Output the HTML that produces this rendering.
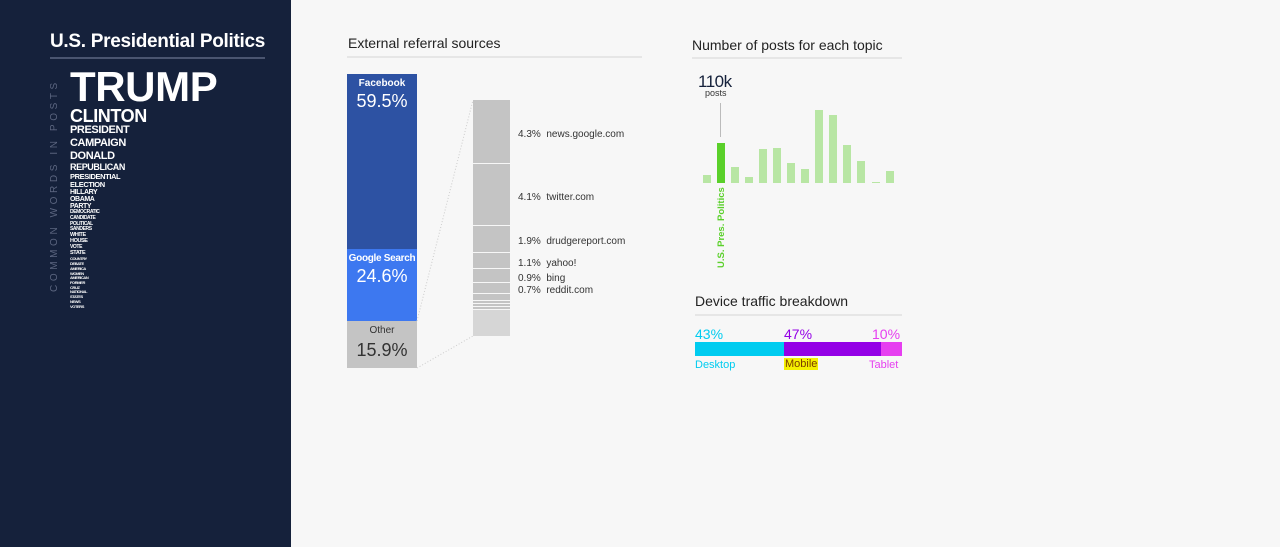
<!DOCTYPE html>
<html><head><meta charset="utf-8"><style>
*{margin:0;padding:0;box-sizing:border-box}
body{width:1280px;height:547px;background:#f7f7f7;font-family:"Liberation Sans",sans-serif;position:relative;overflow:hidden}
.side{position:absolute;left:0;top:0;width:291px;height:547px;background:#15213b}
.a{position:absolute;white-space:nowrap}
.w{position:absolute;left:70px;color:#fff;font-weight:bold;line-height:1;letter-spacing:-0.4px}
.h{color:#222;font-size:14px}
.t{font-size:10px;color:#333}
</style></head><body>
<div class="side">
<div class="a" style="left:50px;top:31px;color:#fff;font-size:19px;font-weight:bold;letter-spacing:-0.3px">U.S. Presidential Politics</div>
<div class="a" style="left:50px;top:57px;width:215px;height:2px;background:#4a5570"></div>
<div class="a" style="left:49px;top:292px;transform:rotate(-90deg);transform-origin:0 0;color:#5c6680;font-size:10px;letter-spacing:3.6px">COMMON WORDS IN POSTS</div>
<div class="w" style="top:66px;font-size:42px">TRUMP</div>
<div class="w" style="top:107px;font-size:18px">CLINTON</div>
<div class="w" style="top:125px;font-size:11px">PRESIDENT</div>
<div class="w" style="top:138px;font-size:11px">CAMPAIGN</div>
<div class="w" style="top:151px;font-size:11px">DONALD</div>
<div class="w" style="top:163px;font-size:9px">REPUBLICAN</div>
<div class="w" style="top:173px;font-size:7.5px">PRESIDENTIAL</div>
<div class="w" style="top:181px;font-size:7.5px">ELECTION</div>
<div class="w" style="top:189px;font-size:7px">HILLARY</div>
<div class="w" style="top:196px;font-size:7px">OBAMA</div>
<div class="w" style="top:203px;font-size:7px">PARTY</div>
<div class="w" style="top:210px;font-size:5px">DEMOCRATIC</div>
<div class="w" style="top:216px;font-size:5px">CANDIDATE</div>
<div class="w" style="top:222px;font-size:5px">POLITICAL</div>
<div class="w" style="top:227px;font-size:5px">SANDERS</div>
<div class="w" style="top:233px;font-size:5.5px">WHITE</div>
<div class="w" style="top:239px;font-size:5.5px">HOUSE</div>
<div class="w" style="top:245px;font-size:5px">VOTE</div>
<div class="w" style="top:251px;font-size:5.5px">STATE</div>
<div class="w" style="top:257px;font-size:4px">COUNTRY</div>
<div class="w" style="top:262px;font-size:4px">DEBATE</div>
<div class="w" style="top:267px;font-size:4px">AMERICA</div>
<div class="w" style="top:272px;font-size:4px">WOMEN</div>
<div class="w" style="top:276px;font-size:4px">AMERICAN</div>
<div class="w" style="top:281px;font-size:4px">FORMER</div>
<div class="w" style="top:286px;font-size:4px">CRUZ</div>
<div class="w" style="top:290px;font-size:4px">NATIONAL</div>
<div class="w" style="top:295px;font-size:4px">STATES</div>
<div class="w" style="top:300px;font-size:4px">NEWS</div>
<div class="w" style="top:305px;font-size:4px">VOTERS</div>
</div>

<div class="a h" style="left:348px;top:35px">External referral sources</div>
<div class="a" style="left:347px;top:56px;width:295px;height:2px;background:#e6e6e6"></div>
<div class="a" style="left:347px;top:74px;width:70px;height:175px;background:#2d52a3"></div>
<div class="a" style="left:347px;top:249px;width:70px;height:72px;background:#3d78f0"></div>
<div class="a" style="left:347px;top:321px;width:70px;height:47px;background:#c4c4c4"></div>
<div class="a" style="left:347px;top:78px;width:70px;text-align:center;color:#fff;font-size:10px;font-weight:bold">Facebook</div>
<div class="a" style="left:347px;top:91px;width:70px;text-align:center;color:#fff;font-size:18px">59.5%</div>
<div class="a" style="left:347px;top:253px;width:70px;text-align:center;color:#fff;font-size:10px;font-weight:bold;letter-spacing:-0.3px">Google Search</div>
<div class="a" style="left:347px;top:266px;width:70px;text-align:center;color:#fff;font-size:18px">24.6%</div>
<div class="a" style="left:347px;top:325px;width:70px;text-align:center;color:#333;font-size:10px">Other</div>
<div class="a" style="left:347px;top:340px;width:70px;text-align:center;color:#333;font-size:18px">15.9%</div>
<svg class="a" style="left:0;top:0" width="1280" height="547">
<line x1="417" y1="321" x2="473" y2="100" stroke="#ccc" stroke-dasharray="1,2"/>
<line x1="417" y1="368" x2="473" y2="336" stroke="#ccc" stroke-dasharray="1,2"/>
<g fill="#c4c4c4">
<rect x="473" y="100" width="37" height="63"/><rect x="473" y="164" width="37" height="61"/>
<rect x="473" y="226" width="37" height="26"/><rect x="473" y="253" width="37" height="15"/>
<rect x="473" y="269" width="37" height="13"/><rect x="473" y="283" width="37" height="10"/>
<rect x="473" y="294" width="37" height="6"/><rect x="473" y="301" width="37" height="2"/>
<rect x="473" y="304" width="37" height="2"/><rect x="473" y="307" width="37" height="2"/>
</g>
<rect x="473" y="310" width="37" height="26" fill="#d6d6d6"/>
<g fill="#b8e6a4">
<rect x="703" y="175" width="8" height="8"/><rect x="731" y="167" width="8" height="16"/>
<rect x="745" y="177" width="8" height="6"/><rect x="759" y="149" width="8" height="34"/>
<rect x="773" y="148" width="8" height="35"/><rect x="787" y="163" width="8" height="20"/>
<rect x="801" y="169" width="8" height="14"/><rect x="815" y="110" width="8" height="73"/>
<rect x="829" y="115" width="8" height="68"/><rect x="843" y="145" width="8" height="38"/>
<rect x="857" y="161" width="8" height="22"/><rect x="872" y="182" width="8" height="1"/>
<rect x="886" y="171" width="8" height="12"/>
</g>
<rect x="717" y="143" width="8" height="40" fill="#5ad02a"/>
<line x1="720.5" y1="103" x2="720.5" y2="137" stroke="#bbb" stroke-width="1"/>
<rect x="695" y="342" width="89" height="14" fill="#00ccf0"/>
<rect x="784" y="342" width="97" height="14" fill="#9400e6"/>
<rect x="881" y="342" width="21" height="14" fill="#e63ff0"/>
</svg>
<div class="a t" style="left:518px;top:129px">4.3%&nbsp;&nbsp;news.google.com</div>
<div class="a t" style="left:518px;top:192px">4.1%&nbsp;&nbsp;twitter.com</div>
<div class="a t" style="left:518px;top:236px">1.9%&nbsp;&nbsp;drudgereport.com</div>
<div class="a t" style="left:518px;top:258px">1.1%&nbsp;&nbsp;yahoo!</div>
<div class="a t" style="left:518px;top:273px">0.9%&nbsp;&nbsp;bing</div>
<div class="a t" style="left:518px;top:285px">0.7%&nbsp;&nbsp;reddit.com</div>

<div class="a h" style="left:692px;top:37px">Number of posts for each topic</div>
<div class="a" style="left:692px;top:57px;width:210px;height:2px;background:#e6e6e6"></div>
<div class="a" style="left:698px;top:72px;font-size:17px;color:#15213b;letter-spacing:-0.5px">110k</div>
<div class="a" style="left:705px;top:88px;font-size:9px;color:#333">posts</div>
<div class="a" style="left:716px;top:268px;transform:rotate(-90deg);transform-origin:0 0;color:#5ad02a;font-size:9.5px;font-weight:bold">U.S. Pres. Politics</div>

<div class="a h" style="left:695px;top:293px">Device traffic breakdown</div>
<div class="a" style="left:695px;top:314px;width:207px;height:2px;background:#e6e6e6"></div>
<div class="a" style="left:695px;top:326px;font-size:14px;color:#00ccf0">43%</div>
<div class="a" style="left:784px;top:326px;font-size:14px;color:#9400e6">47%</div>
<div class="a" style="left:872px;top:326px;font-size:14px;color:#e63ff0">10%</div>
<div class="a" style="left:695px;top:359px;font-size:11px;color:#00ccf0">Desktop</div>
<div class="a" style="left:784px;top:358px;font-size:11px;color:#7a3b00;background:#f5f000;padding:0 1px">Mobile</div>
<div class="a" style="left:869px;top:359px;font-size:11px;color:#e63ff0">Tablet</div>
</body></html>
